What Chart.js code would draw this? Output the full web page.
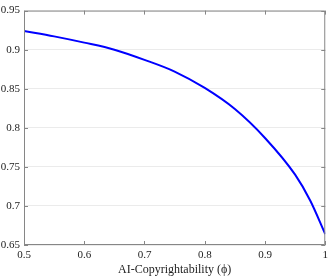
<!DOCTYPE html>
<html>
<head>
<meta charset="utf-8">
<script src="https://cdn.jsdelivr.net/npm/chart.js@4/dist/chart.umd.min.js"></script>
<style>
  html, body { margin: 0; padding: 0; background: #fff; }
  #wrap { width: 332px; height: 277px; }
</style>
</head>
<body>
<div id="wrap"><canvas id="curva"></canvas></div>
<script>
// valores
var phi = [0.5, 0.55, 0.6, 0.65, 0.7, 0.75, 0.8, 0.85, 0.9, 0.95, 0.975, 1.0];
var valores = [0.924, 0.917, 0.909, 0.900, 0.887, 0.872, 0.851, 0.824, 0.787, 0.740, 0.707, 0.664];
var ticksX = [0.5, 0.6, 0.7, 0.8, 0.9, 1];
var ticksY = [0.65, 0.7, 0.75, 0.8, 0.85, 0.9, 0.95];
var tituloX = 'AI-Copyrightability (\u03d5)';

var fuente = { family: "'Liberation Serif', 'DejaVu Serif', serif", size: 11 };
var gris = '#868686';

// caja con marcas hacia adentro, estilo matlab
var caja = {
    id: 'caja',
    afterDraw: function(chart){
        var c = chart.ctx;
        var a = chart.chartArea;
        var sx = chart.scales.x, sy = chart.scales.y;
        c.save();
        c.strokeStyle = gris;
        c.lineWidth = 1;
        c.beginPath();
        c.rect(a.left + 0.5, a.top + 0.5, a.right - a.left - 1, a.bottom - a.top - 1);
        c.stroke();
        c.beginPath();
        ticksX.forEach(function(t){
            var px = Math.round(sx.getPixelForValue(t)) + 0.5;
            c.moveTo(px, a.bottom); c.lineTo(px, a.bottom - 4);
            c.moveTo(px, a.top); c.lineTo(px, a.top + 4);
        });
        ticksY.forEach(function(t){
            var py = Math.round(sy.getPixelForValue(t)) + 0.5;
            c.moveTo(a.left, py); c.lineTo(a.left + 4, py);
            c.moveTo(a.right, py); c.lineTo(a.right - 4, py);
        });
        c.stroke();
        c.restore();
    }
};

var ctx = document.getElementById('curva').getContext('2d');
var grafica = new Chart(ctx, {
    type: 'line',
    data: {
        datasets: [{
            data: phi.map(function(x, i){ return { x: x, y: valores[i] }; }),
            borderColor: '#0000ff',
            borderWidth: 2,
            pointRadius: 0,
            cubicInterpolationMode: 'monotone',
            fill: false
        }]
    },
    options: {
        responsive: true,
        maintainAspectRatio: false,
        animation: false,
        layout: { padding: { top: 5, right: 3, left: 0, bottom: 0 } },
        plugins: { legend: { display: false }, tooltip: { enabled: false } },
        scales: {
            x: {
                type: 'linear',
                min: 0.5,
                max: 1,
                afterBuildTicks: function(s){ s.ticks = ticksX.map(function(v){ return { value: v }; }); },
                afterFit: function(s){ s.height = 32; },
                ticks: {
                    font: fuente,
                    color: '#222',
                    padding: 4,
                    maxRotation: 0,
                    callback: function(v){ return String(+v.toFixed(2)); }
                },
                grid: { display: false, drawTicks: false },
                border: { display: false },
                title: { display: true, text: tituloX, font: { family: fuente.family, size: 12 }, color: '#222', padding: { top: 0, bottom: 0 } }
            },
            y: {
                type: 'linear',
                min: 0.65,
                max: 0.95,
                afterBuildTicks: function(s){ s.ticks = ticksY.map(function(v){ return { value: v }; }); },
                afterFit: function(s){ s.width = 24; },
                ticks: {
                    font: fuente,
                    color: '#222',
                    padding: 4,
                    callback: function(v){ return String(+v.toFixed(2)); }
                },
                grid: { color: '#ebebeb', drawTicks: false },
                border: { display: false }
            }
        }
    },
    plugins: [caja]
});
</script>
</body>
</html>
